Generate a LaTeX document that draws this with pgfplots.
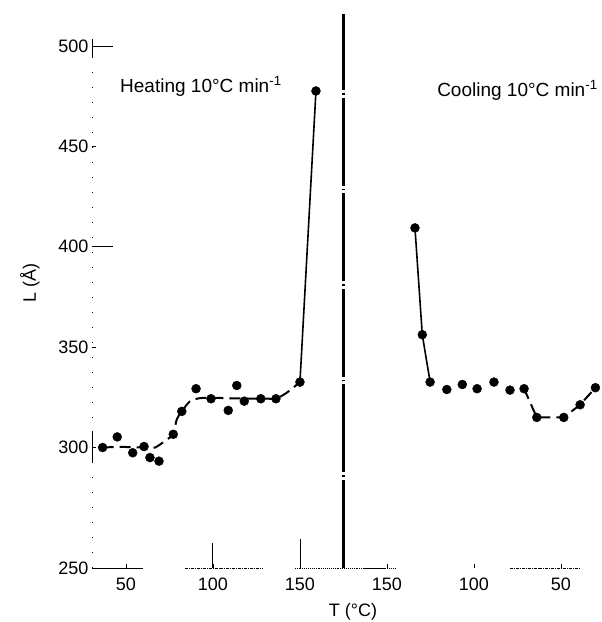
\documentclass[border=0pt]{standalone}
\usepackage{fontspec}
\setmainfont{Liberation Sans}
\usepackage{pgfplots}
\pgfplotsset{compat=1.18}
\newcommand\ff{\fontsize{18}{21}\selectfont}
\newcommand\fg{\fontsize{19}{22}\selectfont}
\begin{document}
\begin{tikzpicture}
\begin{axis}[
 scale only axis, width=505pt, height=522pt,
 xmin=30.5, xmax=320.7, ymin=240, ymax=500,
 axis x line=bottom, axis y line=left,
 axis line style={draw=none,-},
 tick align=inside,
 xtick={50,100,150,200,250,300}, xticklabels={50,100,150,150,100,50},
 ytick={240,300,350,400,450,500}, yticklabels={250,300,350,400,450,500},
 major tick length=4pt,
 tick style={black, line width=0.8pt},
 /pgf/number format/assume math mode=true,
 tick label style={font=\ff},
 xticklabel style={yshift=-6pt},
 label style={font=\ff},
 xlabel={T (°C)}, ylabel={L (Å)},
 xlabel style={at={(rel axis cs:0.517,0)}, anchor=center, yshift=-44pt},
 ylabel style={at={(rel axis cs:0,0.546)}, anchor=center, yshift=62pt},
 clip=false,
]
% axis decorations (broken axis lines, long ticks)
\addplot[black, line width=0.9pt] coordinates {(30.5,240) (60,240)};
\addplot[black, line width=0.9pt, densely dashdotted] coordinates {(84,240) (129,240)};
\addplot[black, line width=0.9pt, densely dotted] coordinates {(147,240) (186,240)};
\addplot[black, line width=0.9pt] coordinates {(186,240) (199,240)};
\addplot[black, line width=0.9pt, densely dotted] coordinates {(199,240) (205,240)};
\addplot[black, line width=0.9pt, densely dashdotted] coordinates {(270.7,240) (311,240)};
\addplot[black, line width=0.9pt, dash pattern=on 1pt off 14pt] coordinates {(30.5,240) (30.5,500)};
\addplot[black, line width=0.9pt] coordinates {(30.5,494.5) (30.5,503.5)};
\addplot[black, line width=0.9pt] coordinates {(30.5,292.5) (30.5,308)};
\addplot[black, line width=0.9pt] coordinates {(30.5,500) (42.6,500)};
\addplot[black, line width=0.9pt] coordinates {(30.5,400) (42.6,400)};
\addplot[black, line width=0.9pt] coordinates {(100,240) (100,252.5)};
\addplot[black, line width=0.9pt] coordinates {(150,240) (150,254.5)};
% separator
\addplot[black, line width=2.3pt, dash pattern=on 88pt off 3pt on 1.5pt off 3pt] coordinates {(175,240) (175,516)};

% heating: fitted dashed curve
\addplot[black, line width=2pt, dash pattern=on 11pt off 6pt, smooth, tension=0.5] coordinates {
(36.6,300) (45,300.3) (54,300.2) (60,300) (66.7,300) (73.4,304) (77.2,306.6) (79.2,314) (82.1,318) (86.8,323) (92.6,324.6) (100,324.8) (110,324.5) (120,324.4) (130,324.4) (136.2,324.4) (142.4,327.3) (150,332.6)};
\addplot[black, line width=1.6pt] coordinates {(150,332.6) (159.2,477.6)};
% heating points
\addplot[only marks, mark=*, mark size=4.5pt, black] coordinates {
(36.6,300) (45.0,305.3) (53.9,297.4) (60.4,300.5) (63.8,295) (69,293.2) (77.2,306.6) (82.1,318) (90.3,329.3) (98.9,324.3) (108.8,318.5) (113.7,330.9) (118,323.1) (127.5,324.3) (136.2,324.3) (150,332.6) (159.2,477.6)};

% cooling (x plotted as 350 - T)
\addplot[black, line width=1.6pt] coordinates {(216.1,409.4) (220.3,356.2) (224.8,332.6)};
\addplot[black, line width=2pt, dash pattern=on 11pt off 6pt] coordinates {(278.8,329.3) (286.1,315) (301.6,315) (311,321.3) (319.8,329.8)};
\addplot[only marks, mark=*, mark size=4.5pt, black] coordinates {
(216.1,409.4) (220.3,356.2) (224.8,332.6) (234.4,328.9) (243.3,331.4) (251.8,329.3) (261.5,332.6) (270.7,328.6) (278.8,329.3) (286.1,315) (301.6,315) (311,321.3) (319.8,329.8)};

\node[anchor=base west, font=\fg, inner sep=0pt] at (axis cs:46.6,477) {Heating 10°C min\textsuperscript{-1}};
\node[anchor=base west, font=\fg, inner sep=0pt] at (axis cs:228.8,475) {Cooling 10°C min\textsuperscript{-1}};
\coordinate (O) at (rel axis cs:0,0);
\end{axis}
\pgfresetboundingbox
\path[use as bounding box] (O) ++(-92pt,-54pt) rectangle ++(602pt,622pt);
\end{tikzpicture}
\end{document}
